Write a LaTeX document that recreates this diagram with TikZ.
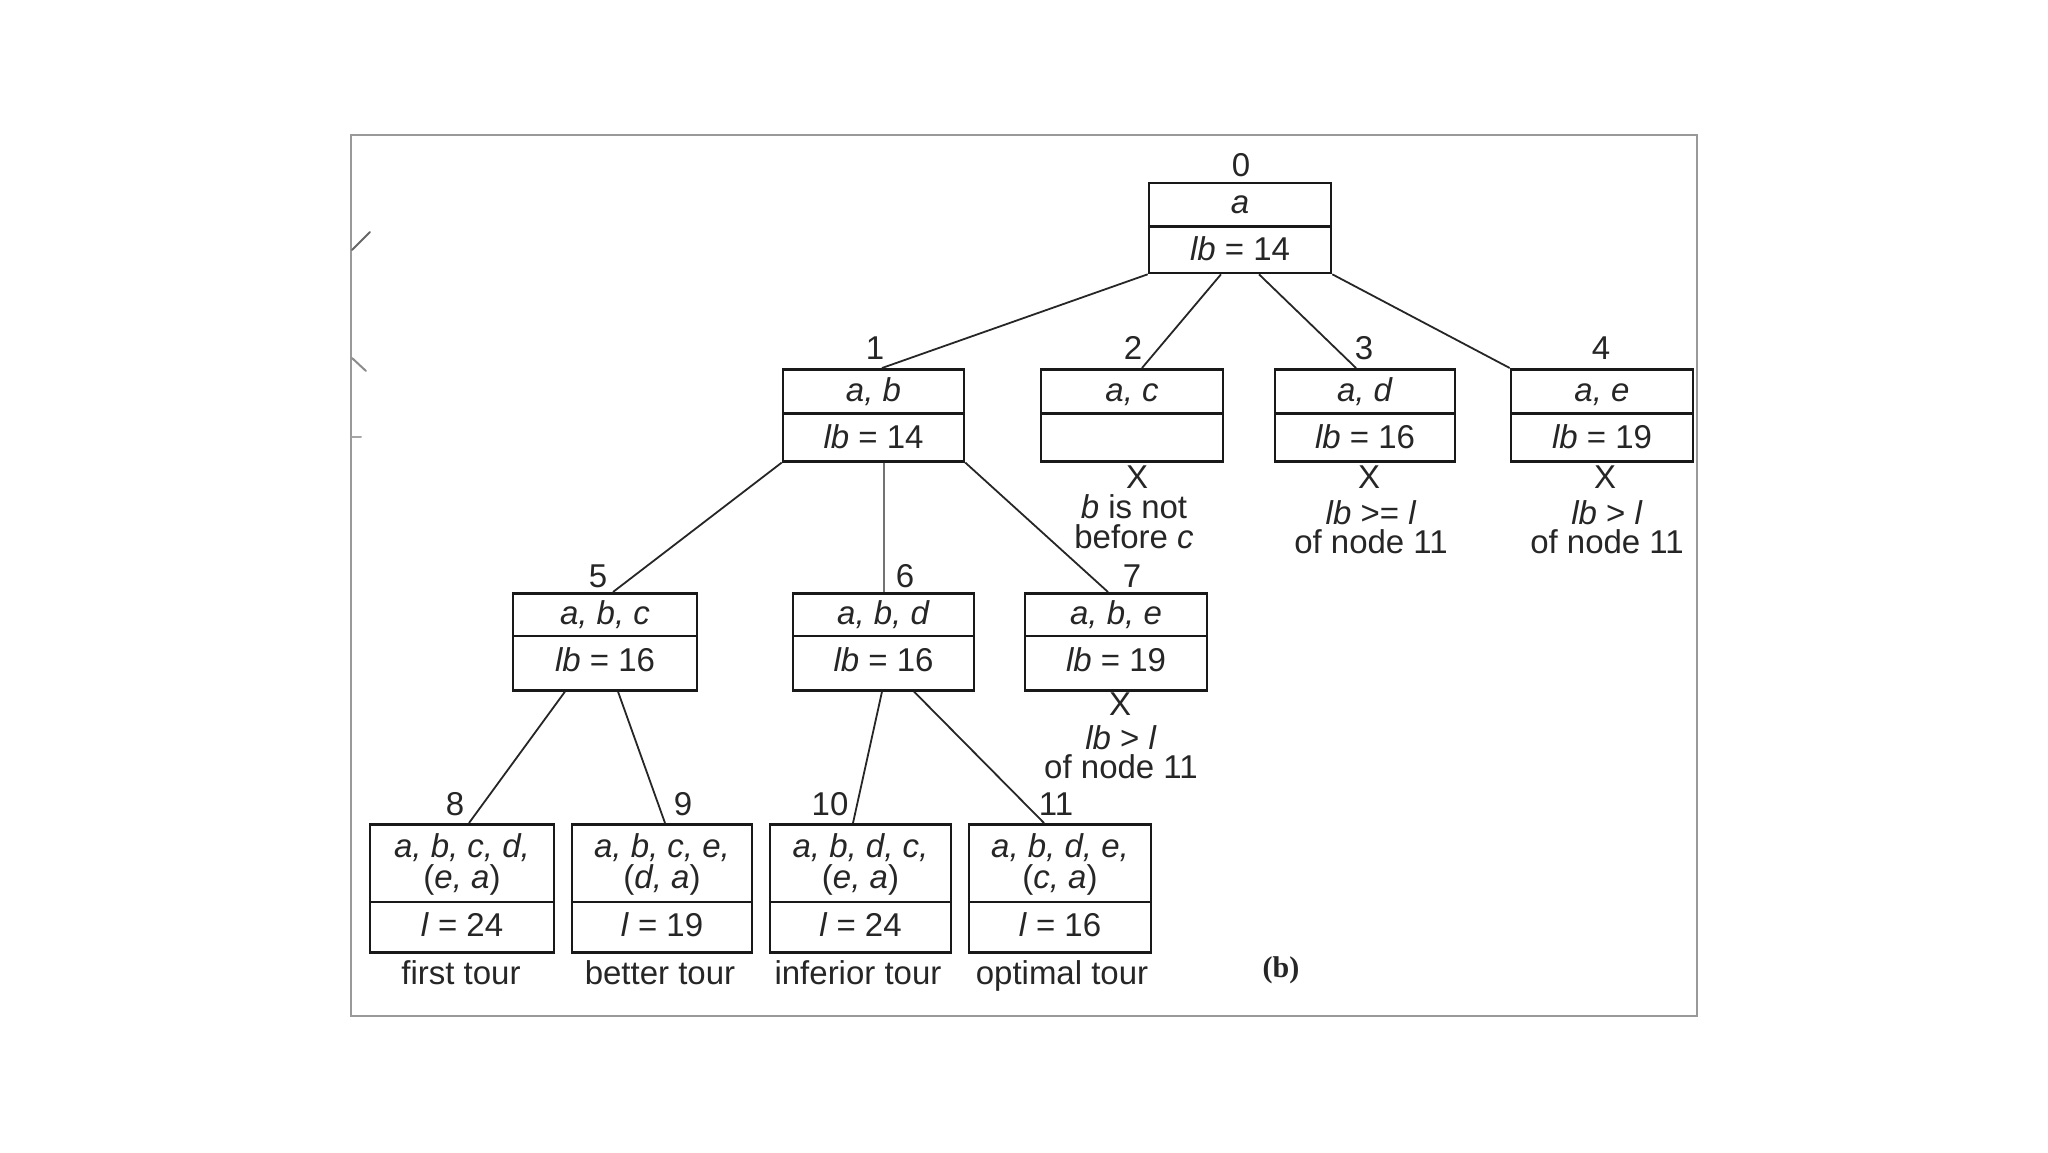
\documentclass[tikz,border=0pt]{standalone}
\usepackage{fontspec}
\setmainfont{Liberation Sans}
\newfontfamily\capfont{Liberation Serif}
\begin{document}
\begin{tikzpicture}[x=1pt,y=-1pt,
  tbox/.style={draw=black!90, line width=2.6pt, inner sep=0pt, anchor=north, minimum height=#1},
  divline/.style={line width=2.6pt, draw=black!90},
  txt/.style={font=\fontsize{33}{38}\selectfont, inner sep=0pt, anchor=base, text=black!85},
  lbl/.style={txt},
  edge/.style={line width=1.8pt, draw=black!85},
  frame/.style={line width=2pt, draw=black!40},
  stray/.style={line width=2pt, draw=black!60, line cap=round}
]
\useasboundingbox (0,0) rectangle (2048,1152);
\draw[frame] (351,135) rectangle (1697,1016);
% stray marks on the left edge
\draw[stray] (352,250) -- (370,232);
\draw[stray, draw=black!45] (352,358) -- (366,371);
\draw[stray, draw=black!35] (352,437) -- (361,437);

% ---- root
\node[tbox=90pt, minimum width=182pt] (root) at (1240,181.7) {};
\draw[divline] (1149,226.7) -- (1331,226.7);
\node[lbl] (l0) at (1241,176) {0};
\node[txt] (root-a) at (1240,213) {\textit{a}};
\node[txt] (root-b) at (1240,260) {\textit{lb} = 14};

% ---- level 1
\node[tbox=92pt, minimum width=181pt] (n1) at (873.5,368) {};
\node[tbox=92pt, minimum width=182pt] (n2) at (1132,368) {};
\node[tbox=92pt, minimum width=180pt] (n3) at (1365,368) {};
\node[tbox=92pt, minimum width=182pt] (n4) at (1602,368) {};
\draw[divline] (783,413.5) -- (964,413.5);
\draw[divline] (1041,413.5) -- (1223,413.5);
\draw[divline] (1275,413.5) -- (1455,413.5);
\draw[divline] (1511,413.5) -- (1693,413.5);
\node[lbl] (l1) at (875,359) {1};
\node[lbl] (l2) at (1133,359) {2};
\node[lbl] (l3) at (1364,359) {3};
\node[lbl] (l4) at (1601,359) {4};
\node[txt] (n1a) at (873.5,401) {\textit{a, b}};
\node[txt] (n1b) at (873.5,448) {\textit{lb} = 14};
\node[txt] (n2a) at (1132,401) {\textit{a, c}};
\node[txt] (n3a) at (1365,401) {\textit{a, d}};
\node[txt] (n3b) at (1365,448) {\textit{lb} = 16};
\node[txt] (n4a) at (1602,401) {\textit{a, e}};
\node[txt] (n4b) at (1602,448) {\textit{lb} = 19};
% annotations
\node[txt] (x2) at (1137,488) {X};
\node[txt] (x2a) at (1134,518) {\textit{b} is not};
\node[txt] (x2b) at (1134,548) {before \textit{c}};
\node[txt] (x3) at (1369,488) {X};
\node[txt] (x3a) at (1371,524) {\textit{lb} >= \textit{l}};
\node[txt] (x3b) at (1371,553) {of node 11};
\node[txt] (x4) at (1605,488) {X};
\node[txt] (x4a) at (1607,524) {\textit{lb} > \textit{l}};
\node[txt] (x4b) at (1607,553) {of node 11};

% ---- level 2
\node[tbox=97pt, minimum width=184pt] (n5) at (605,592) {};
\node[tbox=97pt, minimum width=181pt] (n6) at (883.5,592) {};
\node[tbox=97pt, minimum width=182pt] (n7) at (1116,592) {};
\draw[divline] (513,636) -- (697,636);
\draw[divline] (793,636) -- (974,636);
\draw[divline] (1025,636) -- (1207,636);
\node[lbl] (l5) at (598,587) {5};
\node[lbl] (l6) at (905,587) {6};
\node[lbl] (l7) at (1132,587) {7};
\node[txt] (n5a) at (605,624) {\textit{a, b, c}};
\node[txt] (n5b) at (605,671) {\textit{lb} = 16};
\node[txt] (n6a) at (883.5,624) {\textit{a, b, d}};
\node[txt] (n6b) at (883.5,671) {\textit{lb} = 16};
\node[txt] (n7a) at (1116,624) {\textit{a, b, e}};
\node[txt] (n7b) at (1116,671) {\textit{lb} = 19};
\node[txt] (x7) at (1120,715) {X};
\node[txt] (x7a) at (1121,749) {\textit{lb} > \textit{l}};
\node[txt] (x7b) at (1121,778) {of node 11};

% ---- level 3
\node[tbox=128pt, minimum width=184pt] (n8) at (462,823) {};
\node[tbox=128pt, minimum width=180pt] (n9) at (662,823) {};
\node[tbox=128pt, minimum width=181pt] (n10) at (860.5,823) {};
\node[tbox=128pt, minimum width=182pt] (n11) at (1060,823) {};
\draw[divline] (370,902) -- (554,902);
\draw[divline] (572,902) -- (752,902);
\draw[divline] (770,902) -- (951,902);
\draw[divline] (969,902) -- (1151,902);
\node[lbl] (l8) at (455,815) {8};
\node[lbl] (l9) at (683,815) {9};
\node[lbl] (l10) at (830,815) {10};
\node[lbl] (l11) at (1056,815) {11};
\node[txt] (n8a) at (462,857) {\textit{a, b, c, d,}};
\node[txt] (n8b) at (462,888) {(\textit{e, a})};
\node[txt] (n8c) at (462,936) {\textit{l} = 24};
\node[txt] (n9a) at (662,857) {\textit{a, b, c, e,}};
\node[txt] (n9b) at (662,888) {(\textit{d, a})};
\node[txt] (n9c) at (662,936) {\textit{l} = 19};
\node[txt] (n10a) at (860.5,857) {\textit{a, b, d, c,}};
\node[txt] (n10b) at (860.5,888) {(\textit{e, a})};
\node[txt] (n10c) at (860.5,936) {\textit{l} = 24};
\node[txt] (n11a) at (1060,857) {\textit{a, b, d, e,}};
\node[txt] (n11b) at (1060,888) {(\textit{c, a})};
\node[txt] (n11c) at (1060,936) {\textit{l} = 16};
\node[txt] (c8) at (461,984) {first tour};
\node[txt] (c9) at (660,984) {better tour};
\node[txt] (c10) at (858,984) {inferior tour};
\node[txt] (c11) at (1062,984) {optimal tour};
\node[txt, font=\capfont\bfseries\fontsize{30}{34}\selectfont] (cap) at (1281,977) {(b)};

% ---- connectors
\draw[edge] (root.south west) -- ([xshift=8.5pt]n1.north);
\draw[edge] ([xshift=-19pt]root.south) -- ([xshift=10pt]n2.north);
\draw[edge] ([xshift=19pt]root.south) -- ([xshift=-9pt]n3.north);
\draw[edge] (root.south east) -- (n4.north west);
\draw[edge] (n1.south west) -- ([xshift=8pt]n5.north);
\draw[edge, draw=black!55] ([xshift=10.5pt]n1.south) -- ([xshift=0.5pt]n6.north);
\draw[edge] (n1.south east) -- ([xshift=-8pt]n7.north);
\draw[edge] ([xshift=-40pt]n5.south) -- ([xshift=7pt]n8.north);
\draw[edge] ([xshift=13pt]n5.south) -- ([xshift=3pt]n9.north);
\draw[edge] ([xshift=-1.5pt]n6.south) -- ([xshift=-7.5pt]n10.north);
\draw[edge] ([xshift=30.5pt]n6.south) -- ([xshift=-16pt]n11.north);
\end{tikzpicture}
\end{document}
